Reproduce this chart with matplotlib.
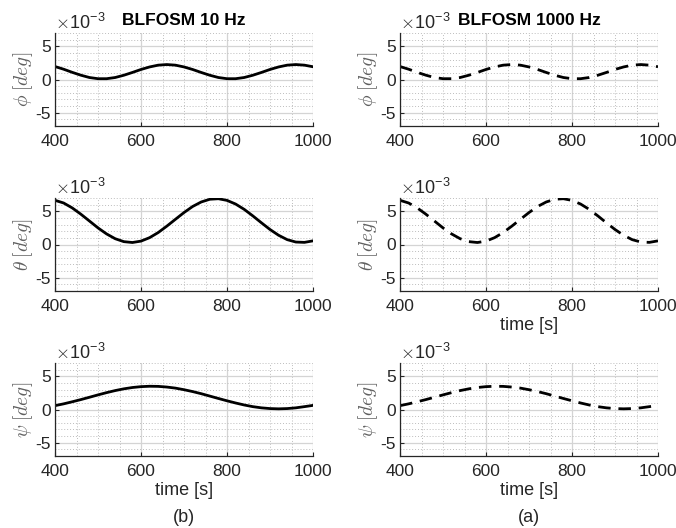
import numpy as np
import matplotlib
matplotlib.use('Agg')
import matplotlib.pyplot as plt
from matplotlib.ticker import MultipleLocator

plt.rcParams['font.family'] = ['Liberation Sans', 'DejaVu Sans']
plt.rcParams['mathtext.fontset'] = 'cm'

# time axis [s]
t = [400, 420, 440, 460, 480, 500, 520, 540, 560, 580, 600,
     620, 640, 660, 680, 700, 720, 740, 760, 780, 800,
     820, 840, 860, 880, 900, 920, 940, 960, 980, 1000]

# attitude angles, units of 1e-3 deg
phi = [1.95, 1.55, 1.08, 0.65, 0.30, 0.12, 0.12, 0.30, 0.64, 1.06, 1.51,
       1.89, 2.16, 2.25, 2.16, 1.89, 1.51, 1.06, 0.64, 0.30, 0.12,
       0.12, 0.30, 0.64, 1.06, 1.51, 1.89, 2.16, 2.25, 2.16, 1.92]
theta = [6.65, 6.25, 5.51, 4.57, 3.54, 2.50, 1.59, 0.87, 0.43, 0.30, 0.51,
         1.03, 1.80, 2.76, 3.79, 4.81, 5.72, 6.40, 6.81, 6.89, 6.64,
         6.09, 5.29, 4.31, 3.27, 2.26, 1.39, 0.73, 0.37, 0.32, 0.55]
psi = [0.58, 0.85, 1.16, 1.49, 1.84, 2.20, 2.54, 2.85, 3.11, 3.31, 3.44,
       3.50, 3.48, 3.38, 3.22, 2.98, 2.70, 2.38, 2.02, 1.66, 1.31,
       0.98, 0.68, 0.43, 0.25, 0.14, 0.10, 0.14, 0.25, 0.43, 0.62]

series = [phi, theta, psi]
ylabels = [r'$\phi\;[deg]$', r'$\theta\;[deg]$', r'$\psi\;[deg]$']
titles = ['BLFOSM 10 Hz', 'BLFOSM 1000 Hz']
captions = ['(b)', '(a)']

fig = plt.figure(figsize=(6.76, 5.28), dpi=100)

lefts = [55 / 676, 400 / 676]
w = 258 / 676
tops = [33, 198, 363]
h = 93 / 528

for col in range(2):
    for row in range(3):
        ax = fig.add_axes([lefts[col], 1 - (tops[row] + 93) / 528, w, h])
        ls = '-' if col == 0 else (0, (4.5, 2.8))
        ax.plot(t, series[row], color='black', lw=2, linestyle=ls)
        ax.set_xlim(400, 1000)
        ax.set_ylim(-7, 7)
        ax.set_xticks([400, 600, 800, 1000])
        ax.set_yticks([-5, 0, 5])
        ax.set_yticklabels(['-5', '0', '5'])
        ax.xaxis.set_minor_locator(MultipleLocator(50))
        ax.yaxis.set_minor_locator(MultipleLocator(1))
        ax.grid(which='major', color='#d4d4d4', lw=0.9)
        ax.grid(which='minor', color='#bdbdbd', lw=0.7, linestyle=(0, (1, 2)))
        ax.set_axisbelow(True)
        for s in ['top', 'right']:
            ax.spines[s].set_visible(False)
        for s in ['left', 'bottom']:
            ax.spines[s].set_color('#262626')
            ax.spines[s].set_linewidth(0.9)
        ax.tick_params(which='both', direction='in', labelsize=12.5, colors='#262626',
                       length=3)
        ax.tick_params(axis='x', pad=6)
        ax.tick_params(axis='y', pad=3)
        ax.tick_params(which='minor', length=0)
        ax.set_ylabel(ylabels[row], fontsize=14, color='#606060', labelpad=0)
        ax.text(0.0, 1.0, r'$\times$10$^{\mathregular{-3}}$', transform=ax.transAxes,
                fontsize=13, color='#262626', ha='left', va='bottom')
        if row == 0:
            ax.set_title(titles[col], fontsize=12.5, fontweight='bold', pad=6)
        if row == 2 or (col == 1 and row == 1):
            ax.set_xlabel('time [s]', fontsize=13, color='#262626', labelpad=2)
        if row == 2:
            ax.text(0.5, -0.57, captions[col], transform=ax.transAxes,
                    fontsize=13, ha='center', va='top', color='#262626')

fig.savefig('out.png', dpi=100)
